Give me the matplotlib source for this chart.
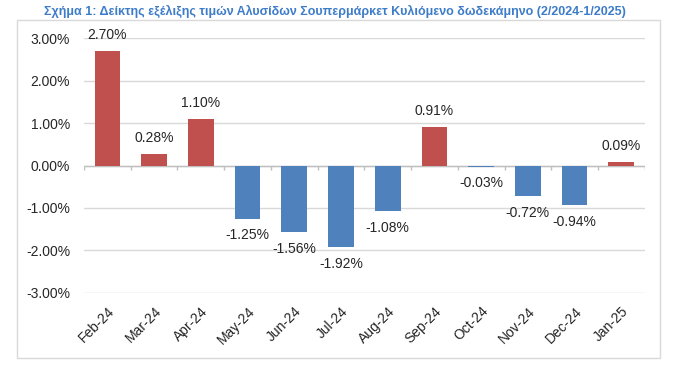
import numpy as np
import matplotlib.pyplot as plt
from matplotlib.patches import Rectangle

plt.rcParams['font.family'] = ['Liberation Sans', 'DejaVu Sans']

months = ['Feb-24', 'Mar-24', 'Apr-24', 'May-24', 'Jun-24', 'Jul-24',
          'Aug-24', 'Sep-24', 'Oct-24', 'Nov-24', 'Dec-24', 'Jan-25']
change = [2.70, 0.28, 1.10, -1.25, -1.56, -1.92, -1.08, 0.91, -0.03, -0.72, -0.94, 0.09]
title = 'Σχήμα 1: Δείκτης εξέλιξης τιμών Αλυσίδων Σουπερμάρκετ Κυλιόμενο δωδεκάμηνο (2/2024-1/2025)'

red = '#C0504D'
blue = '#4F81BD'

fig = plt.figure(figsize=(7, 3.73), dpi=100)
# outer chart frame
fig.patches.append(Rectangle((0.024, 0.040), 0.919, 0.906, transform=fig.transFigure,
                             fill=False, edgecolor='#D9D9D9', linewidth=1))
fig.text(0.479, 0.968, title, ha='center', va='center', fontsize=9,
         color='#3D7CC9', fontweight='bold')

ax = fig.add_axes([0.12, 0.2145, 0.801, 0.6836])
x = np.arange(len(months))
colors = [red if v > 0 else blue for v in change]
ax.bar(x, change, width=0.55, color=colors, zorder=3)

for xi, v in zip(x, change):
    if v > 0:
        ax.annotate(f'{v:.2f}%', (xi, v), xytext=(0, 6), textcoords='offset points',
                    ha='center', va='bottom', fontsize=10, color='#262626')
    else:
        ax.annotate(f'{v:.2f}%', (xi, v), xytext=(0, -7), textcoords='offset points',
                    ha='center', va='top', fontsize=10, color='#262626')

ax.set_xlim(-0.5, len(months) - 0.5)
ax.set_ylim(-3, 3)
ax.set_yticks(np.arange(-3, 4))
ax.set_yticklabels([f'{t:.2f}%' for t in np.arange(-3, 4)], fontsize=10, color='#262626')
ax.set_xticks(x)
ax.set_xticklabels(months, rotation=45, ha='right', va='top', rotation_mode='anchor',
                   fontsize=10, color='#262626')
ax.tick_params(axis='both', length=0)
ax.tick_params(axis='x', pad=8)
ax.tick_params(axis='y', pad=10)
ax.grid(axis='y', color='#D9D9D9', linewidth=1, zorder=0)
for s in ax.spines.values():
    s.set_visible(False)

# zero line with small category ticks
ax.axhline(0, color='#BFBFBF', linewidth=1, zorder=2)
ax.vlines(np.arange(-0.5, len(months)), -0.1, 0, color='#BFBFBF', linewidth=1, zorder=2)

fig.savefig('out.png', dpi=100)
